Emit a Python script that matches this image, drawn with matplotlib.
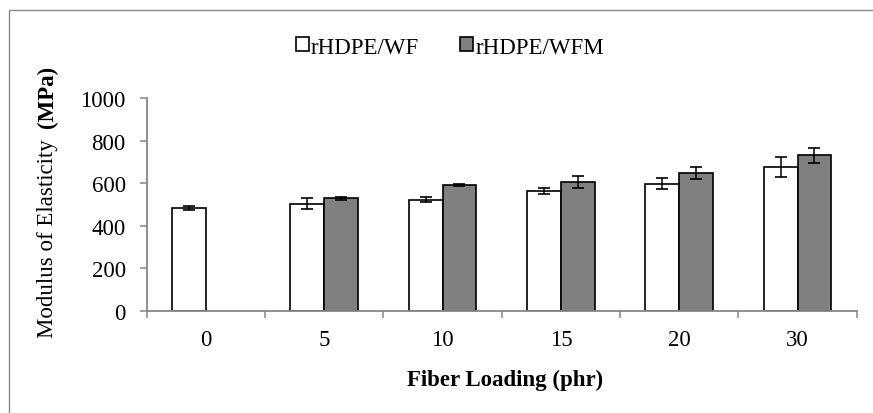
import numpy as np
import matplotlib
matplotlib.use('Agg')
import matplotlib.pyplot as plt
from matplotlib.patches import Patch, Rectangle

# ---------- data ------------------------------------------------------------
loading = ['0', '5', '10', '15', '20', '30']
wf_mean = [483, 504, 523, 563, 598, 676]
wf_err = [8, 27, 13, 16, 25, 46]
wfm_mean = [np.nan, 529, 591, 607, 646, 731]
wfm_err = [np.nan, 8, 6, 28, 28, 34]

# ---------- style -----------------------------------------------------------
plt.rcParams['font.family'] = ['Liberation Serif', 'DejaVu Serif']
FS = 16.5
AXIS_GRAY = '#868686'
BAR_GRAY = '#808080'

W, H = 873, 414
fig = plt.figure(figsize=(W / 100, H / 100), dpi=100)
ax = fig.add_axes([146.7 / W, 1 - 312 / H, 710 / W, 213 / H])

x = np.arange(len(loading))
bw = 0.285
err_style = dict(ecolor='black', elinewidth=1.1, capsize=4, capthick=1.2)

ax.bar(x - bw / 2, wf_mean, bw, color='white', edgecolor='black', lw=1.2,
       yerr=wf_err, error_kw=err_style, label='rHDPE/WF', zorder=2)
m = ~np.isnan(wfm_mean)
ax.bar(x[m] + bw / 2, np.array(wfm_mean)[m], bw, color=BAR_GRAY,
       edgecolor='black', lw=1.2, yerr=np.array(wfm_err)[m],
       error_kw=err_style, label='rHDPE/WFM', zorder=2)

ax.set_xlim(-0.5, len(loading) - 0.5)
ax.set_ylim(0, 1000)
ax.set_yticks(np.arange(0, 1001, 200))

# category boundaries carry the tick marks, centres carry the labels
ax.set_xticks(np.arange(-0.5, len(loading), 1.0))
ax.set_xticklabels([])
ax.set_xticks(x, minor=True)
ax.set_xticklabels(loading, minor=True)
ax.tick_params(axis='x', which='major', length=5, width=1.1, color=AXIS_GRAY,
               direction='out')
ax.tick_params(axis='x', which='minor', length=0, pad=13, labelsize=FS)
ax.tick_params(axis='y', length=5, width=1.1, color=AXIS_GRAY,
               direction='out', pad=10, labelsize=FS)

for s in ['top', 'right']:
    ax.spines[s].set_visible(False)
for s in ['left', 'bottom']:
    ax.spines[s].set_color(AXIS_GRAY)
    ax.spines[s].set_linewidth(1.3)
    ax.spines[s].set_zorder(3)

fig.text(505 / W, 1 - 380 / H, 'Fiber Loading (phr)', ha='center',
         va='center', fontsize=FS, fontweight='bold')

# y label: plain name followed by bold unit
ylab = fig.text(47 / W, 1 - 338 / H, 'Modulus of Elasticity  ', rotation=90,
                rotation_mode='anchor', ha='left', va='center', fontsize=FS)
fig.canvas.draw()
bb = ylab.get_window_extent(renderer=fig.canvas.get_renderer())
fig.text(47 / W, bb.y1 / H, '(MPa)', rotation=90, rotation_mode='anchor',
         ha='left', va='center', fontsize=FS, fontweight='bold')

handles = [Patch(facecolor='white', edgecolor='black', lw=1.2),
           Patch(facecolor=BAR_GRAY, edgecolor='black', lw=1.2)]
fig.legend(handles, ['rHDPE/WF', 'rHDPE/WFM'], loc='center',
           bbox_to_anchor=(450 / W, 1 - 48 / H), ncol=2, frameon=False,
           fontsize=FS, handlelength=0.55, handleheight=0.55,
           handletextpad=0.1, columnspacing=1.8, borderaxespad=0)

# outer chart frame
fig.patches.append(Rectangle((9 / W, -0.2), 1.2, 1.2 - 11 / H,
                             transform=fig.transFigure, fill=False,
                             edgecolor=AXIS_GRAY, lw=1.0))

fig.savefig('out.png', dpi=100)
